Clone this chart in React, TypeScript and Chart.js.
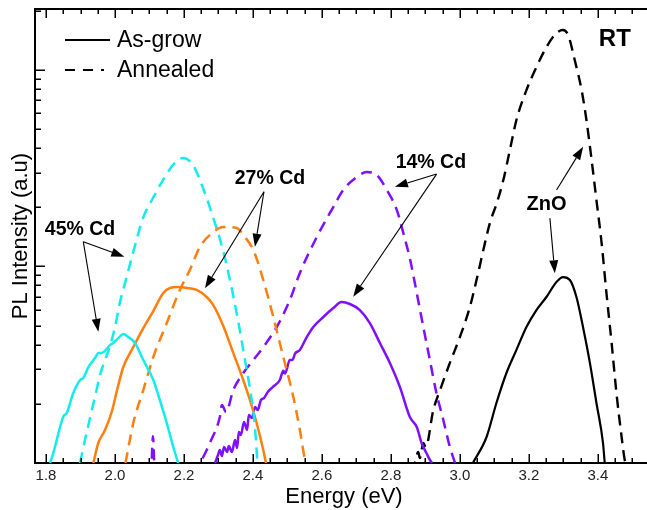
import React, { useEffect, useRef } from 'react';
import { Chart, registerables } from 'chart.js';

Chart.register(...registerables);

const FONT = '"Liberation Sans", Arial, Helvetica, sans-serif';

// ---------- data (energy in eV, PL intensity in a.u., log scale) ----------
const cd45AsGrownEnergy = [1.8116, 1.821, 1.85, 1.86, 1.879, 1.899, 1.908, 1.923, 1.942, 1.952, 1.961, 1.986, 1.995, 2.01, 2.024, 2.039, 2.058, 2.082, 2.111, 2.13, 2.15, 2.169, 2.183];
const cd45AsGrownIntensity = [1.0, 1.124, 1.72, 1.796, 2.27, 2.644, 2.706, 3.078, 3.42, 3.63, 3.63, 3.98, 4.08, 4.32, 4.53, 4.37, 4.08, 3.34, 2.644, 2.09, 1.598, 1.206, 1.0];

const cd45AnnealedEnergy = [1.8986, 1.913, 1.9275, 1.942, 1.9565, 1.971, 1.9855, 2.0, 2.0145, 2.029, 2.0522, 2.0812, 2.1101, 2.1391, 2.1681, 2.1971, 2.2261, 2.2551, 2.2841, 2.313, 2.3333, 2.3565, 2.3768, 2.3942, 2.4058, 2.413];
const cd45AnnealedIntensity = [1.0, 1.309, 1.694, 2.166, 2.803, 3.341, 3.937, 4.918, 6.59, 8.23, 11.7, 17.63, 22.28, 27.51, 32.8, 35.6, 32.8, 25.05, 17.84, 12.12, 8.53, 5.34, 3.34, 2.218, 1.524, 1.0];

const cd27AsGrownEnergy = [1.9371, 1.9516, 1.971, 1.9904, 2.0096, 2.0241, 2.053, 2.082, 2.111, 2.14, 2.1594, 2.1826, 2.2078, 2.2368, 2.2658, 2.2849, 2.3139, 2.3429, 2.3719, 2.3913, 2.4107, 2.4299, 2.4377];
const cd27AsGrownIntensity = [1.0, 1.264, 1.472, 1.817, 2.493, 3.078, 3.89, 4.86, 5.93, 7.32, 7.77, 7.86, 7.77, 7.59, 6.99, 6.36, 4.98, 3.63, 2.644, 2.09, 1.598, 1.164, 1.0];

const cd27AnnealedEnergy = [2.0304, 2.053, 2.082, 2.111, 2.15, 2.188, 2.217, 2.246, 2.285, 2.314, 2.353, 2.372, 2.401, 2.43, 2.459, 2.488, 2.517, 2.536, 2.551, 2.554];
const cd27AnnealedIntensity = [1.0, 1.598, 2.35, 3.46, 5.15, 7.59, 9.59, 12.55, 14.96, 15.86, 15.68, 14.44, 12.12, 8.53, 5.53, 3.46, 2.17, 1.472, 1.036, 1.0];

const cd14AsGrownEnergy = [2.29, 2.2986, 2.304, 2.31, 2.316, 2.325, 2.33, 2.339, 2.348, 2.354, 2.359, 2.365, 2.374, 2.383, 2.388, 2.397, 2.406, 2.414, 2.423, 2.432, 2.443, 2.458, 2.478, 2.488, 2.493, 2.507, 2.515, 2.522, 2.536, 2.556, 2.575, 2.604, 2.633, 2.657, 2.681, 2.71, 2.739, 2.768, 2.797, 2.826, 2.855, 2.875, 2.889, 2.903, 2.913, 2.919];
const cd14AsGrownIntensity = [1.0, 1.098, 1.164, 1.085, 1.206, 1.137, 1.22, 1.137, 1.309, 1.192, 1.438, 1.388, 1.616, 1.472, 1.754, 1.694, 1.927, 1.86, 2.09, 2.14, 2.3, 2.44, 2.644, 2.95, 2.85, 3.34, 3.35, 3.6, 3.76, 4.37, 4.92, 5.53, 6.14, 6.59, 6.44, 6.0, 5.15, 4.08, 3.23, 2.44, 1.714, 1.524, 1.264, 1.124, 1.036, 1.0];

const cd14AnnealedEnergy = [2.105, 2.11, 2.116, 2.24, 2.246, 2.256, 2.275, 2.304, 2.31, 2.322, 2.343, 2.372, 2.401, 2.43, 2.469, 2.507, 2.536, 2.585, 2.633, 2.662, 2.701, 2.73, 2.759, 2.788, 2.817, 2.836, 2.856, 2.875, 2.894, 2.913, 2.932, 2.952, 2.971, 2.986];
const cd14AnnealedIntensity = [0.85, 1.37, 0.85, 0.85, 1.0, 1.073, 1.264, 1.714, 1.97, 1.817, 2.35, 2.87, 3.34, 3.89, 4.92, 6.75, 9.26, 14.11, 20.05, 24.5, 28.5, 30.2, 29.2, 24.5, 19.4, 14.8, 10.78, 7.32, 4.92, 3.34, 2.27, 1.654, 1.206, 1.0];

const znoAsGrownEnergy = [3.0377, 3.0774, 3.106, 3.135, 3.164, 3.193, 3.222, 3.251, 3.28, 3.299, 3.319, 3.338, 3.357, 3.377, 3.396, 3.415, 3.42];
const znoAsGrownIntensity = [1.0, 1.356, 2.02, 2.87, 3.76, 4.92, 6.0, 6.99, 8.33, 8.83, 8.53, 6.99, 4.92, 3.23, 2.02, 1.264, 1.0];

const znoAnnealedEnergy = [2.862, 2.8696, 2.879, 2.884, 2.894, 2.901, 2.923, 2.9425, 2.971, 3.0, 3.029, 3.053, 3.068, 3.087, 3.107, 3.126, 3.145, 3.164, 3.193, 3.222, 3.251, 3.28, 3.299, 3.314, 3.333, 3.353, 3.367, 3.382, 3.396, 3.411, 3.425, 3.44, 3.454, 3.469, 3.478, 3.481];
const znoAnnealedIntensity = [0.9, 1.0, 1.137, 1.06, 1.264, 1.206, 1.86, 2.35, 3.23, 4.37, 6.22, 9.26, 12.12, 16.63, 21.0, 27.5, 39.1, 55.6, 78.9, 103.3, 130.6, 153.9, 159.4, 150.3, 112.2, 78.9, 55.6, 34.8, 21.76, 13.15, 7.32, 4.08, 2.27, 1.356, 1.036, 1.0];

// ---------- axes ----------
const xTickValues = [1.8, 2.0, 2.2, 2.4, 2.6, 2.8, 3.0, 3.2, 3.4];
const xTickLabels = ['1.8', '2.0', '2.2', '2.4', '2.6', '2.8', '3.0', '3.2', '3.4'];
const yDecades = [1, 10, 100];

// ---------- legend & annotations ----------
const legendTexts = ['As-grow', 'Annealed'];

const labelTexts = ['45% Cd', '27% Cd', '14% Cd', 'ZnO', 'RT'];
const labelEnergy = [1.8986, 2.4493, 2.9159, 3.2513, 3.4493];
const labelIntensity = [15.5, 28.2, 34.1, 20.94, 144.6];

const arrowFromEnergy = [1.908, 1.908, 2.4319, 2.4319, 2.9325, 2.9325, 3.2803, 3.261];
const arrowFromIntensity = [13.36, 13.36, 23.99, 23.99, 29.5, 29.5, 24.5, 17.6];
const arrowToEnergy = [2.027, 1.9516, 2.2609, 2.4058, 2.8116, 2.6907, 3.3574, 3.2754];
const arrowToIntensity = [11.2, 4.65, 7.74, 12.6, 25.4, 7.01, 40.6, 9.22];

const CYAN = '#12ecec';
const ORANGE = '#ff7f0e';
const PURPLE = '#7f0fff';
const BLACK = '#000000';
const DASH = [11, 7];

const pts = (e: number[], v: number[]) => e.map((x, k) => ({ x, y: v[k] }));

const decorPlugin = {
  id: 'decor',
  afterDraw(chart: any) {
    const { ctx, chartArea: a, scales } = chart;
    const x = scales.x;
    const y = scales.y;
    ctx.save();
    // top frame
    ctx.strokeStyle = '#000';
    ctx.lineWidth = 2;
    ctx.beginPath();
    ctx.moveTo(a.left - 1, a.top);
    ctx.lineTo(a.right + 2, a.top);
    ctx.stroke();
    // x ticks (inward), bottom and top
    ctx.lineWidth = 1.5;
    ctx.beginPath();
    for (let i = 0; i < 60; i++) {
      const v = 1.8 + i * 0.05;
      if (v > x.max) break;
      const px = Math.round(x.getPixelForValue(v)) + 0.25;
      const len = i % 4 === 0 ? 9 : 5;
      ctx.moveTo(px, a.bottom);
      ctx.lineTo(px, a.bottom - len);
      ctx.moveTo(px, a.top);
      ctx.lineTo(px, a.top + len);
    }
    // y ticks (log, inward)
    for (const d of yDecades) {
      for (let m = 1; m <= 9; m++) {
        const v = m * d;
        if (v > y.max) break;
        if (v <= y.min) continue;
        const py = Math.round(y.getPixelForValue(v)) + 0.25;
        const len = m === 1 ? 10 : 6;
        ctx.moveTo(a.left, py);
        ctx.lineTo(a.left + len, py);
      }
    }
    ctx.stroke();

    // legend (uses ZnO dataset styles)
    const ds = chart.data.datasets;
    const legendDs = [ds[6], ds[7]];
    const legendLen = [45, 39];
    legendDs.forEach((d: any, k: number) => {
      const ly = 40 + k * 30;
      ctx.strokeStyle = d.borderColor;
      ctx.lineWidth = 2.2;
      ctx.setLineDash(d.borderDash && d.borderDash.length ? [10, 8] : []);
      ctx.beginPath();
      ctx.moveTo(65, ly);
      ctx.lineTo(65 + legendLen[k], ly);
      ctx.stroke();
      ctx.setLineDash([]);
      ctx.fillStyle = '#000';
      ctx.font = `23px ${FONT}`;
      ctx.textAlign = 'left';
      ctx.textBaseline = 'middle';
      ctx.fillText(legendTexts[k], 117, ly + 1);
    });

    // arrows
    ctx.strokeStyle = '#000';
    ctx.fillStyle = '#000';
    ctx.lineWidth = 1.1;
    for (let k = 0; k < arrowFromEnergy.length; k++) {
      const x0 = x.getPixelForValue(arrowFromEnergy[k]);
      const y0 = y.getPixelForValue(arrowFromIntensity[k]);
      const x1 = x.getPixelForValue(arrowToEnergy[k]);
      const y1 = y.getPixelForValue(arrowToIntensity[k]);
      const ang = Math.atan2(y1 - y0, x1 - x0);
      const hl = 13;
      const hw = 4.5;
      const bx = x1 - hl * Math.cos(ang);
      const by = y1 - hl * Math.sin(ang);
      ctx.beginPath();
      ctx.moveTo(x0, y0);
      ctx.lineTo(bx, by);
      ctx.stroke();
      ctx.beginPath();
      ctx.moveTo(x1, y1);
      ctx.lineTo(bx + hw * Math.sin(ang), by - hw * Math.cos(ang));
      ctx.lineTo(bx - hw * Math.sin(ang), by + hw * Math.cos(ang));
      ctx.closePath();
      ctx.fill();
    }

    // labels
    ctx.textAlign = 'center';
    ctx.textBaseline = 'middle';
    labelTexts.forEach((t, k) => {
      const size = t === 'RT' ? 24 : t === 'ZnO' ? 20 : 19.5;
      ctx.font = `bold ${size}px ${FONT}`;
      ctx.fillText(t, x.getPixelForValue(labelEnergy[k]), y.getPixelForValue(labelIntensity[k]) + 1);
    });
    ctx.restore();
  },
};

export default function App() {
  const ref = useRef<HTMLCanvasElement>(null);
  useEffect(() => {
    const line = (label: string, e: number[], v: number[], color: string, dashed: boolean, width: number) => ({
      label,
      data: pts(e, v),
      borderColor: color,
      backgroundColor: color,
      borderWidth: width,
      borderDash: dashed ? DASH : [],
      pointRadius: 0,
      fill: false,
      cubicInterpolationMode: 'monotone' as const,
    });
    const chart = new Chart(ref.current as HTMLCanvasElement, {
      type: 'line',
      data: {
        datasets: [
          line('45% Cd As-grow', cd45AsGrownEnergy, cd45AsGrownIntensity, CYAN, false, 2.5),
          line('45% Cd Annealed', cd45AnnealedEnergy, cd45AnnealedIntensity, CYAN, true, 2.5),
          line('27% Cd As-grow', cd27AsGrownEnergy, cd27AsGrownIntensity, ORANGE, false, 2.5),
          line('27% Cd Annealed', cd27AnnealedEnergy, cd27AnnealedIntensity, ORANGE, true, 2.5),
          line('14% Cd As-grow', cd14AsGrownEnergy, cd14AsGrownIntensity, PURPLE, false, 2.5),
          line('14% Cd Annealed', cd14AnnealedEnergy, cd14AnnealedIntensity, PURPLE, true, 2.5),
          line('As-grow', znoAsGrownEnergy, znoAsGrownIntensity, BLACK, false, 2.2),
          line('Annealed', znoAnnealedEnergy, znoAnnealedIntensity, BLACK, true, 2.4),
        ],
      },
      options: {
        responsive: false,
        animation: false,
        devicePixelRatio: 1,
        layout: { padding: { left: 0, top: 9, right: 7, bottom: 0 } },
        plugins: { legend: { display: false }, tooltip: { enabled: false } },
        scales: {
          x: {
            type: 'linear',
            min: 1.768,
            max: 3.56,
            grid: { display: false, drawTicks: false },
            border: { display: true, color: '#000', width: 2 },
            afterBuildTicks: (s: any) => {
              s.ticks = xTickValues.map((v) => ({ value: v }));
            },
            ticks: {
              callback: (_v: any, i: number) => xTickLabels[i] ?? '',
              font: { family: FONT, size: 15 },
              color: '#222',
              padding: 4,
              maxRotation: 0,
              autoSkip: false,
            },
            title: {
              display: true,
              text: 'Energy (eV)',
              font: { family: FONT, size: 22 },
              color: '#000',
              padding: { top: 0, bottom: 0 },
            },
            afterFit: (s: any) => {
              s.height = 47;
            },
          },
          y: {
            type: 'logarithmic',
            min: 1,
            max: 204,
            grid: { display: false, drawTicks: false },
            border: { display: true, color: '#000', width: 2 },
            ticks: { display: false },
            title: {
              display: true,
              text: 'PL Intensity (a.u)',
              font: { family: FONT, size: 22 },
              color: '#000',
              padding: { top: 8, bottom: 0 },
            },
            afterFit: (s: any) => {
              s.width = 35;
            },
          },
        },
      },
      plugins: [decorPlugin],
    });
    return () => chart.destroy();
  }, []);
  return (
    <div style={{ position: 'fixed', left: 0, top: 0, width: 647, height: 510, overflow: 'hidden', background: '#fff' }}>
      <canvas ref={ref} width={660} height={510} style={{ display: 'block' }} />
    </div>
  );
}
